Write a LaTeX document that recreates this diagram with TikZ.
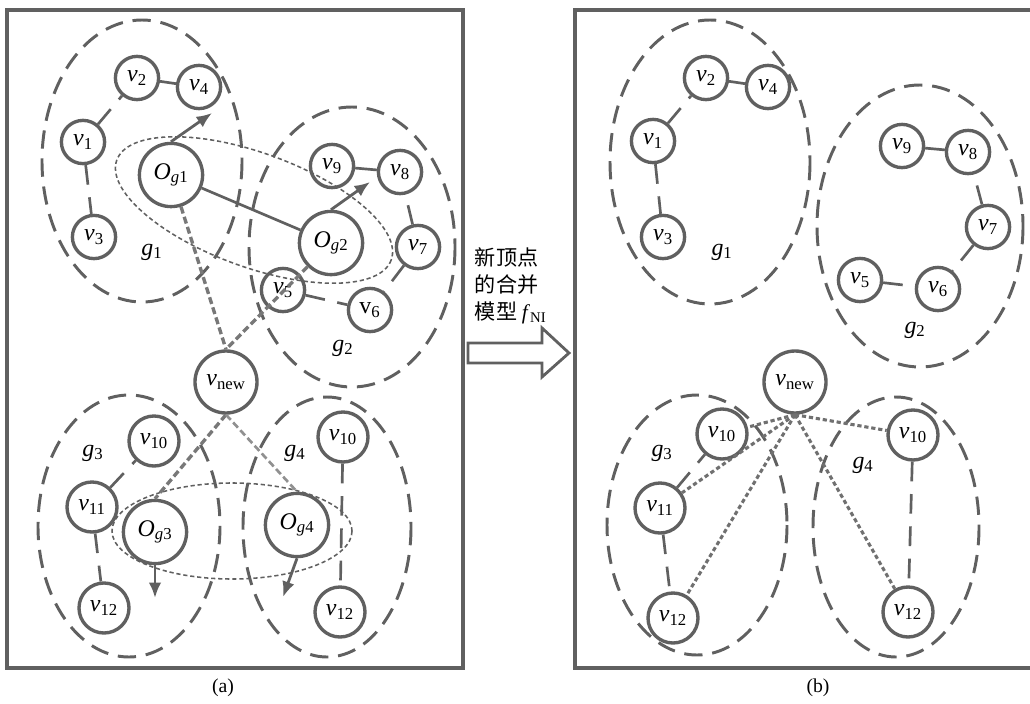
\documentclass[tikz,border=0pt]{standalone}
\usepackage{fontspec}
\setmainfont{Liberation Serif}
\newfontfamily\cjk{Noto Sans CJK SC}
\usepackage{tikz}
\usetikzlibrary{positioning, arrows.meta}

\definecolor{lineg}{RGB}{96,96,96}
\newcommand{\vv}[1]{\textit{v}\textsubscript{#1}}
\newcommand{\og}[1]{\textit{O}\textsubscript{\textit{g}#1}}
\newcommand{\gl}[1]{\textit{g}\textsubscript{#1}}

\tikzset{
  vnode/.style={circle, draw=lineg, line width=2.4pt, minimum size=1.08cm, inner sep=0pt, font=\fontsize{17}{19}\selectfont},
  bnode/.style={vnode, minimum size=1.25cm},
  onode/.style={vnode, minimum size=1.58cm},
  group/.style={draw=lineg, line width=2.1pt, dash pattern=on 13pt off 7pt},
  pair/.style={draw=lineg, line width=1.1pt, dash pattern=on 3pt off 2pt},
  vlink/.style={draw=lineg, line width=1.9pt, dash pattern=on 14pt off 9pt},
  toward/.style={draw=lineg, line width=2pt, -{Latex[length=11pt,width=9pt]}},
  merge/.style={draw=lineg!85, line width=2.4pt, dash pattern=on 5pt off 2.5pt},
  link/.style={draw=lineg!90, line width=2.2pt, dash pattern=on 3pt off 2pt},
  glabel/.style={font=\fontsize{17}{19}\selectfont},
  frame/.style={draw=lineg, line width=2.8pt}
}

\begin{document}
\begin{tikzpicture}[x=0.025cm, y=-0.025cm]
    \useasboundingbox (0,0) rectangle (1030,703);

    % 外框
    \draw[frame] (7,10) rectangle (463,668);
    \draw[frame] (575,10) rectangle (1045,668);

    % (a) 分组
    \draw[group] (142,161) ellipse (100 and 141);
    \draw[group] (352,247) ellipse (103 and 140);
    \draw[group] (129,526) ellipse (91 and 131);
    \draw[group] (327,527) ellipse (84 and 130);
    \draw[pair, rotate around={-20:(254,210)}] (254,210) ellipse (146 and 57);
    \draw[pair] (232,531) ellipse (120 and 48);

    % (a) 顶点
    \node[vnode] (a1) at (83,142) {\vv{1}};
    \node[vnode] (a2) at (137,78) {\vv{2}};
    \node[vnode] (a3) at (94,237) {\vv{3}};
    \node[vnode] (a4) at (199,87) {\vv{4}};
    \node[vnode] (a5) at (283,290) {\vv{5}};
    \node[vnode] (a6) at (370,310) {v\textsubscript{6}};
    \node[vnode] (a7) at (418,247) {\vv{7}};
    \node[vnode] (a8) at (400,172) {\vv{8}};
    \node[vnode] (a9) at (332,166) {\vv{9}};
    \node[onode] (og1) at (171,175) {\og{1}};
    \node[onode] (og2) at (331,243) {\og{2}};
    \node[onode, minimum size=1.55cm] (an) at (226,382) {\vv{new}};
    \node[bnode] (a10) at (154,441) {\vv{10}};
    \node[bnode] (a11) at (92,507) {\vv{11}};
    \node[bnode] (a12) at (104,608) {\vv{12}};
    \node[onode] (og3) at (155,532) {\og{3}};
    \node[onode] (og4) at (297,525) {\og{4}};
    \node[bnode] (b10) at (343,437) {\vv{10}};
    \node[bnode] (b12) at (340,612) {\vv{12}};

    \node[glabel] (ag1) at (152,252) {\gl{1}};
    \node[glabel] (ag2) at (343,348) {\gl{2}};
    \node[glabel] (ag3) at (93,453) {\gl{3}};
    \node[glabel] (ag4) at (295,453) {\gl{4}};

    % (a) 边
    \draw[vlink] (a1) -- (a2);
    \draw[draw=lineg, line width=1.9pt] (a2) -- (a4);
    \draw[vlink] (a1) -- (a3);
    \draw[draw=lineg, line width=1.9pt] (a9) -- (a8);
    \draw[vlink] (a7) -- (a8);
    \draw[vlink] (a7) -- (a6);
    \draw[vlink] (a5) -- (a6);
    \draw[vlink] (a11) -- (a10);
    \draw[vlink] (a11) -- (a12);
    \draw[vlink] (b10) -- (b12);

    % 中心连线与方向
    \draw[draw=lineg, line width=1.9pt] (og1) -- (og2);
    \draw[merge] (og1) -- (an.north);
    \draw[merge] (og2) -- (an.north);
    \draw[merge] (an.south) -- (og3.north);
    \draw[merge, draw=lineg!70, line width=1.9pt] (an.south) -- (og4.north);
    \coordinate (t1) at (212,113);
    \coordinate (t2) at (370,182);
    \coordinate (t3) at (155,598);
    \coordinate (t4) at (283,597);
    \draw[toward] (og1.north) -- (t1);
    \draw[toward] (og2.north) -- (t2);
    \draw[toward] (og3.south) -- (t3);
    \draw[toward] (og4.south) -- (t4);

    % 箭头与说明
    \draw[draw=lineg, line width=2pt, fill=white] (468,343) -- (542,343) -- (542,328) -- (569,353)
        -- (542,377) -- (542,363) -- (468,363) -- cycle;
    \node[font=\cjk\fontsize{15}{19}\selectfont, align=left, anchor=west] (note) at (470,286)
        {新顶点\\的合并\\模型 {\rmfamily\textit{f}\textsubscript{NI}}};

    % (b) 分组
    \draw[group] (710,162) ellipse (100 and 142);
    \draw[group] (920,226) ellipse (103 and 141);
    \draw[group] (697,525) ellipse (90 and 130);
    \draw[group] (896,527) ellipse (83 and 130);

    % (b) 顶点
    \node[vnode] (c1) at (653,141) {\vv{1}};
    \node[vnode] (c2) at (706,78) {\vv{2}};
    \node[vnode] (c3) at (663,237) {\vv{3}};
    \node[vnode] (c4) at (768,87) {\vv{4}};
    \node[vnode] (c5) at (860,280) {\vv{5}};
    \node[vnode] (c6) at (938,289) {\vv{6}};
    \node[vnode] (c7) at (988,227) {\vv{7}};
    \node[vnode] (c8) at (968,152) {\vv{8}};
    \node[vnode] (c9) at (902,146) {\vv{9}};
    \node[onode, minimum size=1.55cm] (cn) at (795,382) {\vv{new}};
    \node[bnode] (c10) at (722,434) {\vv{10}};
    \node[bnode] (c11) at (660,508) {\vv{11}};
    \node[bnode] (c12) at (673,618) {\vv{12}};
    \node[bnode] (d10) at (913,435) {\vv{10}};
    \node[bnode] (d12) at (908,612) {\vv{12}};

    \node[glabel] (cg1) at (722,252) {\gl{1}};
    \node[glabel] (cg2) at (915,330) {\gl{2}};
    \node[glabel] (cg3) at (662,453) {\gl{3}};
    \node[glabel] (cg4) at (863,465) {\gl{4}};

    % (b) 边
    \draw[vlink] (c1) -- (c2);
    \draw[draw=lineg, line width=1.9pt] (c2) -- (c4);
    \draw[vlink] (c1) -- (c3);
    \draw[draw=lineg, line width=1.9pt] (c9) -- (c8);
    \draw[vlink] (c7) -- (c8);
    \draw[vlink] (c7) -- (c6);
    \draw[vlink] (c5) -- (c6);
    \draw[vlink] (c11) -- (c10);
    \draw[vlink] (c11) -- (c12);
    \draw[vlink] (d10) -- (d12);
    \foreach \n in {c10, c11, c12, d10, d12}
        \draw[link] (cn.south) -- (\n);

    % 标题
    \node[font=\fontsize{14}{16}\selectfont] (capa) at (223,688) {(a)};
    \node[font=\fontsize{14}{16}\selectfont] (capb) at (818,688) {(b)};
\end{tikzpicture}
\end{document}
